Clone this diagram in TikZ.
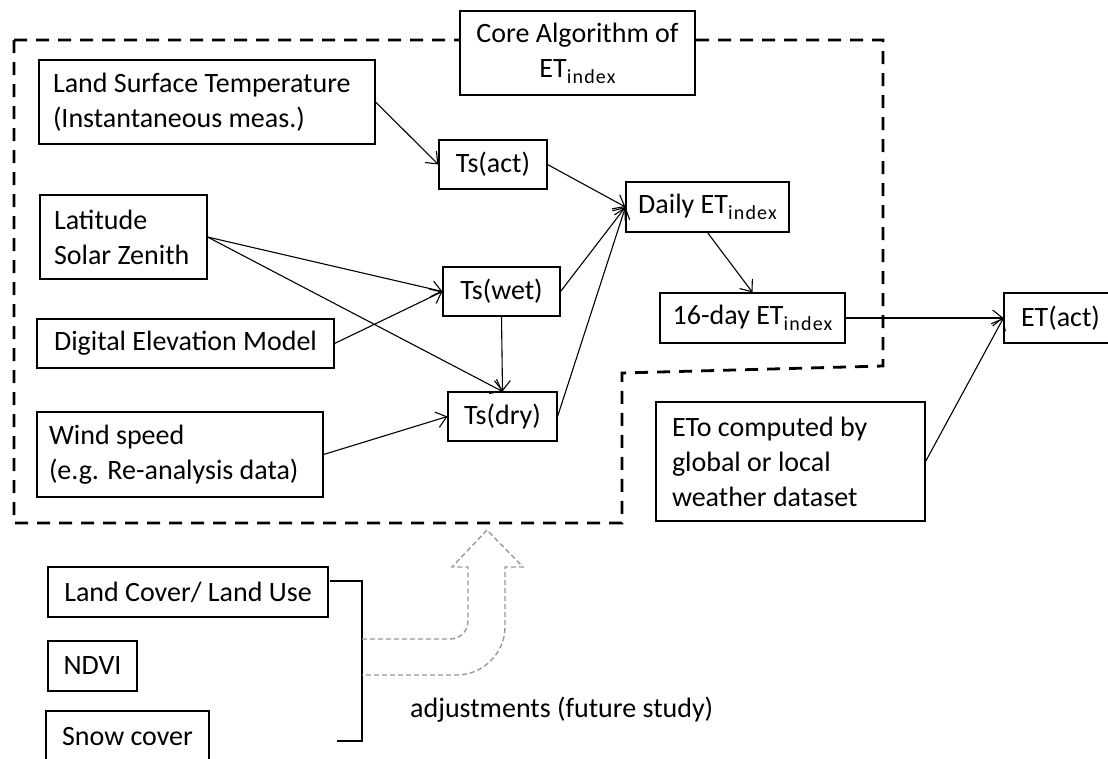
\documentclass[tikz,border=0pt]{standalone}
\usepackage{fontspec}
\setmainfont{Carlito}
\usetikzlibrary{arrows.meta}
\newcommand\sbx[1]{\raisebox{-6pt}{\fontsize{20}{20}\selectfont\addfontfeatures{LetterSpace=6}#1}}
\begin{document}
\begin{tikzpicture}[x=1pt,y=-1pt,
  box/.style={draw, line width=1.1pt, inner sep=0pt, fill=white,
    font=\fontsize{28}{35}\selectfont},
  conn/.style={line width=1.1pt, -{Straight Barb[length=10pt,width=16pt]}},
  outline/.style={line width=2.8pt, dash pattern=on 13pt off 9pt},
  grayarrow/.style={line width=1.4pt, draw=black!40, dash pattern=on 5pt off 3pt},
  plainline/.style={line width=1.1pt}
]
\useasboundingbox (0,0) rectangle (1108,758);

% dashed outline of core algorithm
\draw[outline] (14,40) -- (883,40) -- (883,366) -- (622,373) -- (622,523) -- (14,523) -- cycle;

% nodes
\node[box, minimum width=235pt, minimum height=84pt, align=center] (core) at (577.5,53) {Core Algorithm of\\ET\sbx{index}};

\node[box, minimum width=336pt, minimum height=84pt, text width=308pt, align=flush left] (lst) at (207,102) {Land Surface Temperature\\(Instantaneous meas.)};
\node[box, minimum width=167pt, minimum height=84pt, text width=139pt, align=flush left] (lat) at (123.5,237) {Latitude\\Solar Zenith};
\node[box, minimum width=297pt, minimum height=49pt] (dem) at (185.5,343.5) {Digital Elevation Model};
\node[box, minimum width=286pt, minimum height=85pt, text width=262pt, align=flush left] (wind) at (180,454.5) {Wind speed\\(e.g. Re-analysis data)};

\node[box, minimum width=108pt, minimum height=49pt] (tsact) at (493,164.5) {Ts(act)};
\node[box, minimum width=117pt, minimum height=49pt] (tswet) at (501.5,291.5) {Ts(wet)};
\node[box, minimum width=109pt, minimum height=49pt] (tsdry) at (502.5,416.5) {Ts(dry)};

\node[box, minimum width=163pt, minimum height=50pt] (daily) at (707.5,207) {Daily ET\sbx{index}};
\node[box, minimum width=185pt, minimum height=50pt] (d16) at (752.5,318) {16-day ET\sbx{index}};
\node[box, minimum width=113pt, minimum height=50pt] (etact) at (1060.5,318) {ET(act)};
\node[box, minimum width=269pt, minimum height=119pt, text width=237pt, align=flush left] (eto) at (790.5,461.5) {ETo computed by\\global or local\\weather dataset};

\node[box, minimum width=280pt, minimum height=50pt] (lc) at (188,592) {Land Cover/ Land Use};
\node[box, minimum width=89pt, minimum height=50pt] (ndvi) at (92.5,666) {NDVI};
\node[box, minimum width=163pt, minimum height=50pt] (snow) at (127.5,736) {Snow cover};

\node[anchor=base west, inner sep=0pt, font=\fontsize{28}{35}\selectfont] (adj) at (410,717) {adjustments (future study)};

% connectors
\draw[conn] (lst.east) -- (tsact.west);
\draw[conn] (lat.east) -- (tswet.west);
\draw[conn] (lat.east) -- (tsdry.north);
\draw[conn] (dem.east) -- (tswet.west);
\draw[conn] (wind.east) -- (tsdry.west);
\draw[conn] (tswet.south) -- (tsdry.north);
\draw[conn] (tsact.east) -- (daily.west);
\draw[conn] (tswet.east) -- (daily.west);
\draw[conn] (tsdry.east) -- (daily.west);
\draw[conn] (daily.south) -- (d16.north);
\draw[conn] (d16.east) -- (etact.west);
\draw[conn] (eto.east) -- (etact.west);

% bracket
\draw[plainline] (330,581) -- (362,581) -- (362,741) -- (337,741);

% gray dashed bent arrow
\draw[grayarrow] (362,639) -- (450,639) .. controls (460,639) and (468,631) .. (468,621)
  -- (468,567) -- (452,567) -- (487,530) -- (523,567) -- (505,567) -- (505,627)
  .. controls (505,653) and (483,675) .. (457,675) -- (362,675);
\end{tikzpicture}
\end{document}
